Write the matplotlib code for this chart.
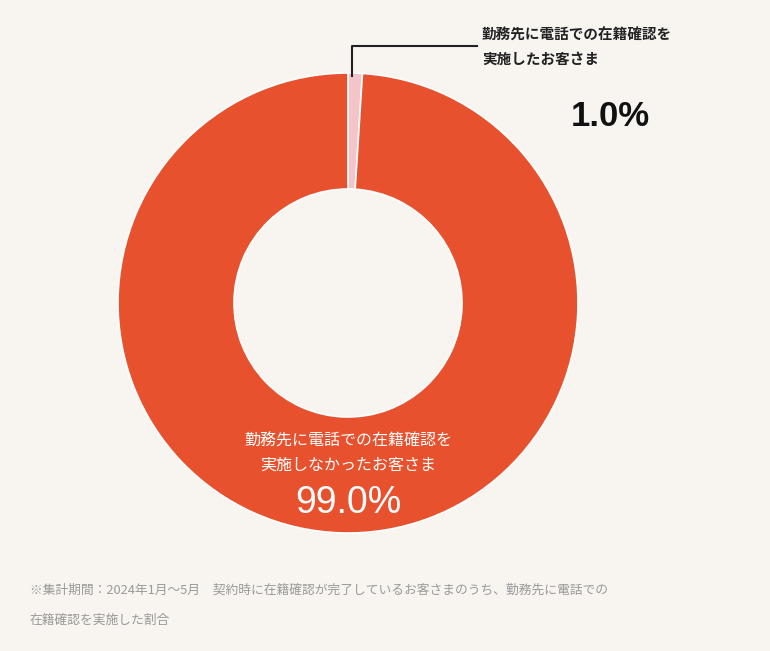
import matplotlib
matplotlib.use("Agg")
import matplotlib.pyplot as plt

# data
labels = ["勤務先に電話での在籍確認を\n実施したお客さま", "勤務先に電話での在籍確認を\n実施しなかったお客さま"]
shares = [1.0, 99.0]
colors = ["#f4c4c8", "#e8512e"]
note = ["※集計期間：2024年1月～5月　契約時に在籍確認が完了しているお客さまのうち、勤務先に電話での",
        "在籍確認を実施した割合"]

plt.rcParams["font.family"] = "Noto Sans CJK JP"
W, H = 770, 651
BG = "#f8f5f0"
fig = plt.figure(figsize=(W / 100, H / 100), dpi=100, facecolor=BG)
ax = fig.add_axes([0, 0, 1, 1])
ax.set_xlim(0, W)
ax.set_ylim(0, H)
ax.set_aspect("equal")
ax.axis("off")

cx, cy = 348, H - 303
ax.pie(shares, colors=colors, startangle=90, counterclock=False,
       center=(cx, cy), radius=230,
       wedgeprops=dict(width=116, edgecolor="white", linewidth=1.2))
ax.set_xlim(0, W)
ax.set_ylim(0, H)

# leader line for the small slice
ax.plot([352, 352, 477], [H - 76, H - 46, H - 46], color="#222222", lw=1.5)
ax.text(482, H - 47, labels[0], ha="left", va="center", fontsize=10.5,
        fontweight="bold", color="#222222", linespacing=1.6)
ax.text(610, H - 117, f"{shares[0]:.1f}%", ha="center", va="center",
        fontsize=25, fontweight="bold", color="#111111", family="Liberation Sans")

ax.text(cx, H - 453, labels[1], ha="center", va="center", fontsize=11.5,
        color="white", linespacing=1.5)
ax.text(cx, H - 503, f"{shares[1]:.1f}%", ha="center", va="center",
        fontsize=27, color="white", family="Liberation Sans")

for i, line in enumerate(note):
    ax.text(30, H - 590 - 30 * i, line, ha="left", va="center", fontsize=9.2,
            color="#9a9a9a")

fig.savefig("out.png", dpi=100, facecolor=BG)
